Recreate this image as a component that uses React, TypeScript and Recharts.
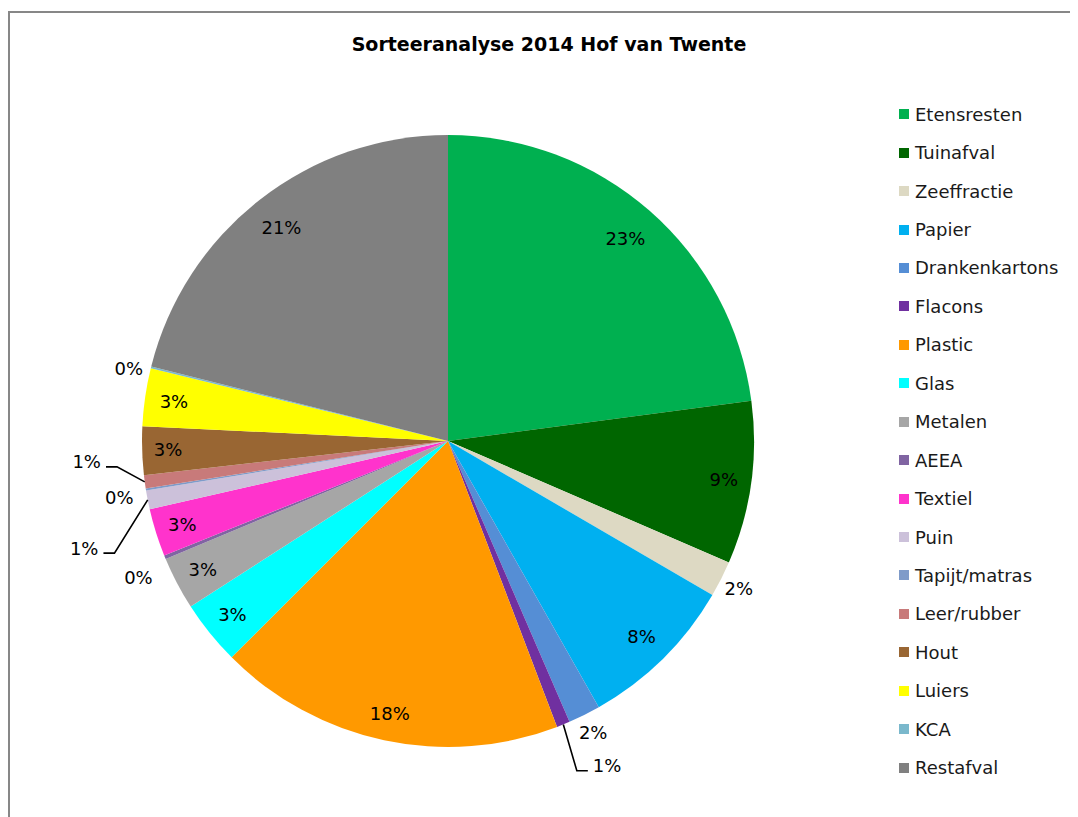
import React from "react";
import { PieChart, Pie, Cell, Legend } from "recharts";

const categories = [
  "Etensresten", "Tuinafval", "Zeeffractie", "Papier", "Drankenkartons", "Flacons",
  "Plastic", "Glas", "Metalen", "AEEA", "Textiel", "Puin", "Tapijt/matras",
  "Leer/rubber", "Hout", "Luiers", "KCA", "Restafval",
];
const shares = [22.9, 8.6, 1.9, 8.4, 1.7, 0.7, 18.3, 3.4, 2.8, 0.2, 2.52, 1.0, 0.1, 0.7, 2.55, 3.05, 0.1, 21.08];
const colors = [
  "#00B050", "#006600", "#DDD9C3", "#00B0F0", "#558ED5", "#7030A0",
  "#FF9900", "#00FFFF", "#A6A6A6", "#8064A2", "#FF33CC", "#CCC1DA", "#7F9BC9",
  "#C87A7A", "#996633", "#FFFF00", "#7AB8CC", "#808080",
];
const title = "Sorteeranalyse 2014 Hof van Twente";

const data = categories.map((name, i) => ({ name, value: shares[i] }));

// label placement: radius factor, angular shift (clockwise degrees), leader side
const labelFactor = [0.88, 0.91, 1.065, 0.9, 1.065, 1.157, 0.91, 0.905, 0.905, 1.105, 0.91, 1.15, 1.09, 1.085, 0.915, 0.905, 1.07, 0.885];
const labelShift = [0, 0, 0, 0, 0, 0.8, 0, 0, 0, -1.4, 0, -7.5, -0.6, 3.2, 0, 0, -1.1, 0];
const leaderSide = [0, 0, 0, 0, 0, 1, 0, 0, 0, 0, 0, -1, 0, -1, 0, 0, 0, 0];

const RAD = Math.PI / 180;
const polar = (cx: number, cy: number, r: number, a: number) => [
  cx + r * Math.cos(-a * RAD),
  cy + r * Math.sin(-a * RAD),
];

const FONT = "'DejaVu Sans', Verdana, sans-serif";

const renderLabel = (props: any) => {
  const { cx, cy, midAngle, outerRadius, percent, index } = props;
  const txt = `${Math.round(percent * 100)}%`;
  const a = midAngle - labelShift[index];
  const [x, y] = polar(cx, cy, outerRadius * labelFactor[index], a);
  const side = leaderSide[index];
  if (side !== 0) {
    const [sx, sy] = polar(cx, cy, outerRadius, midAngle);
    const ex = x + side * 11;
    return (
      <g>
        <polyline
          points={`${sx},${sy} ${x},${y} ${ex},${y}`}
          fill="none"
          stroke="#000"
          strokeWidth={1.6}
        />
        <text
          x={ex + side * 5}
          y={y - 5}
          textAnchor={side > 0 ? "start" : "end"}
          dominantBaseline="central"
          fontFamily={FONT}
          fontSize={18}
          fill="#000"
        >
          {txt}
        </text>
      </g>
    );
  }
  return (
    <text
      x={x}
      y={y}
      textAnchor="middle"
      dominantBaseline="central"
      fontFamily={FONT}
      fontSize={18}
      fill="#000"
    >
      {txt}
    </text>
  );
};

const renderLegend = () => (
  <div style={{ fontFamily: FONT, fontSize: 18, color: "#1a1a1a" }}>
    {categories.map((name, i) => (
      <div
        key={name}
        style={{ height: 38.45, display: "flex", alignItems: "center", whiteSpace: "nowrap" }}
      >
        <span
          style={{
            display: "inline-block",
            width: 10,
            height: 10,
            background: colors[i],
            marginRight: 6,
          }}
        />
        <span>{name}</span>
      </div>
    ))}
  </div>
);

export default function App() {
  return (
    <div
      style={{
        marginTop: 3,
        width: 1068,
        height: 804,
        borderLeft: "2px solid #878787",
        borderTop: "2px solid #878787",
        position: "relative",
        background: "#fff",
        overflow: "hidden",
      }}
    >
      <div
        style={{
          position: "absolute",
          left: 0,
          width: 1078,
          top: 20,
          textAlign: "center",
          fontFamily: FONT,
          fontWeight: "bold",
          fontSize: 19,
          color: "#000",
          zIndex: 2,
        }}
      >
        {title}
      </div>
      <PieChart width={1068} height={804}>
        <Pie
          data={data}
          dataKey="value"
          nameKey="name"
          cx={433}
          cy={423}
          outerRadius={306}
          startAngle={90}
          endAngle={-270}
          stroke="none"
          label={renderLabel}
          labelLine={false}
          isAnimationActive={false}
        >
          {data.map((d, i) => (
            <Cell key={d.name} fill={colors[i]} />
          ))}
        </Pie>
        <Legend
          layout="vertical"
          align="right"
          verticalAlign="top"
          content={renderLegend}
          wrapperStyle={{ left: 889, top: 82, width: 190, right: "auto" }}
        />
      </PieChart>
    </div>
  );
}
